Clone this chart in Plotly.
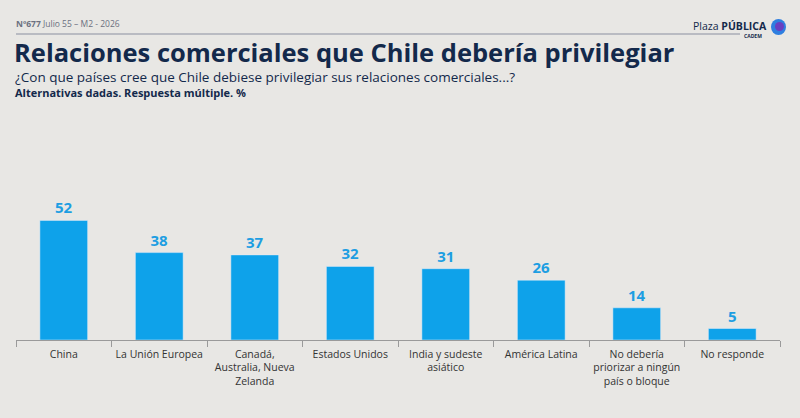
import plotly.graph_objects as go

categories = ["China", "La Unión Europea", "Canadá,<br>Australia, Nueva<br>Zelanda",
              "Estados Unidos", "India y sudeste<br>asiático", "América Latina",
              "No debería<br>priorizar a ningún<br>país o bloque", "No responde"]
values = [52, 38, 37, 32, 31, 26, 14, 5]

W, H = 800, 418
L, R, T, B = 16, 20, 110, 78
pw, ph = W - L - R, H - T - B

def px(x):
    return (x - L) / pw

def py(y):
    return (H - B - y) / ph

BG = "#e8e7e4"
NAVY = "#13294b"
BLUE = "#0ea2ea"

fig = go.Figure(go.Bar(
    x=categories, y=values, marker_color=BLUE, width=0.5,
    text=[str(v) for v in values], textposition="outside",
    textfont=dict(family="Open Sans", size=15, color="#1d9ee2", weight="bold"),
    cliponaxis=False, hoverinfo="skip",
))

fig.update_layout(
    width=W, height=H, margin=dict(l=L, r=R, t=T, b=B, autoexpand=False),
    paper_bgcolor=BG, plot_bgcolor=BG, showlegend=False,
    bargap=0.5,
    xaxis=dict(type="category", showline=True, linecolor="#9a9a9a", linewidth=1,
               ticks="outside", tickson="boundaries", ticklen=6, tickcolor="#9a9a9a",
               tickangle=0, automargin=False, ticklabelstandoff=4,
               tickfont=dict(family="Open Sans", size=10.5, color="#333333"),
               showgrid=False),
    yaxis=dict(range=[0, 100], visible=False, showgrid=False, automargin=False),
    font=dict(family="Open Sans"),
)

def ann(x, y, text, size, color, xanchor="left"):
    return dict(x=px(x), y=py(y), xref="paper", yref="paper", text=text,
                showarrow=False, xanchor=xanchor, yanchor="middle",
                font=dict(size=size, color=color))

annotations = [
    ann(14, 24, "<b>Nº677</b> Julio 55 – M2 - 2026", 8.5, "#6b7080"),
    ann(12, 52, "<b>Relaciones comerciales que Chile debería privilegiar</b>", 25.5, NAVY),
    ann(13, 77, "¿Con que países cree que Chile debiese privilegiar sus relaciones comerciales...?", 13.5, NAVY),
    ann(13, 92, "<b>Alternativas dadas. Respuesta múltiple. %</b>", 11, NAVY),
    ann(769, 26, "Plaza <b>PÚBLICA</b>", 10.5, NAVY, "right"),
    ann(764, 36, "<b>CADEM</b>", 5, NAVY, "right"),
]
fig.update_layout(annotations=annotations)

fig.add_shape(type="line", xref="paper", yref="paper", x0=px(16), x1=px(740),
              y0=py(34), y1=py(34), line=dict(color="#8a8fa0", width=1))
fig.add_shape(type="circle", xref="paper", yref="paper", x0=px(771), x1=px(786),
              y0=py(35), y1=py(19), fillcolor="#2f7fe0", line=dict(width=0))
fig.add_shape(type="circle", xref="paper", yref="paper", x0=px(775), x1=px(784),
              y0=py(31), y1=py(22), fillcolor="#6a3fc0", line=dict(width=0))

fig.write_html("out.html", config={"displayModeBar": False},
               post_script="document.body.style.margin='0';")
